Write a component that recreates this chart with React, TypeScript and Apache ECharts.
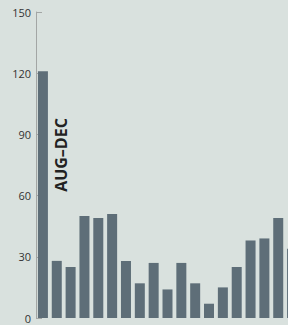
import React, { useEffect, useRef } from "react";
import * as echarts from "echarts";

const categories = [
  "1", "2", "3", "4", "5", "6", "7", "8", "9", "10",
  "11", "12", "13", "14", "15", "16", "17", "18", "19",
];
const values = [121, 28, 25, 50, 49, 51, 28, 17, 27, 14, 27, 17, 7, 15, 25, 38, 39, 49, 34];
const yTicks = { min: 0, max: 150, interval: 30 };
const annotation = "AUG–DEC";

export default function App() {
  const ref = useRef<HTMLDivElement>(null);
  useEffect(() => {
    if (!ref.current) return;
    const chart = echarts.init(ref.current, null, { renderer: "svg" });
    chart.setOption({
      animation: false,
      backgroundColor: "#d9e1de",
      grid: {
        left: 36,
        top: 12,
        bottom: 7,
        width: 263,
        containLabel: false,
        outerBoundsMode: "none",
      },
      xAxis: {
        type: "category",
        data: categories,
        show: false,
      },
      yAxis: {
        type: "value",
        min: yTicks.min,
        max: yTicks.max,
        interval: yTicks.interval,
        splitLine: { show: false },
        axisLine: { show: true, lineStyle: { color: "#a3a6a5", width: 1 } },
        axisTick: { show: true, inside: true, length: 6, lineStyle: { color: "#a3a6a5" } },
        axisLabel: {
          color: "#333333",
          fontSize: 11,
          margin: 5,
          fontFamily: "Open Sans",
        },
      },
      series: [
        {
          type: "bar",
          data: values,
          barWidth: 10,
          itemStyle: { color: "#5e6e78" },
        },
      ],
      graphic: [
        {
          type: "text",
          x: 61,
          y: 155,
          rotation: Math.PI / 2,
          style: {
            text: annotation,
            fill: "#222222",
            font: "bold 16px 'Open Sans'",
            textAlign: "center",
            textVerticalAlign: "middle",
          },
        },
      ],
    });
    return () => chart.dispose();
  }, []);
  return (
    <div
      ref={ref}
      style={{ position: "fixed", left: 0, top: 0, width: 288, height: 325 }}
    />
  );
}
